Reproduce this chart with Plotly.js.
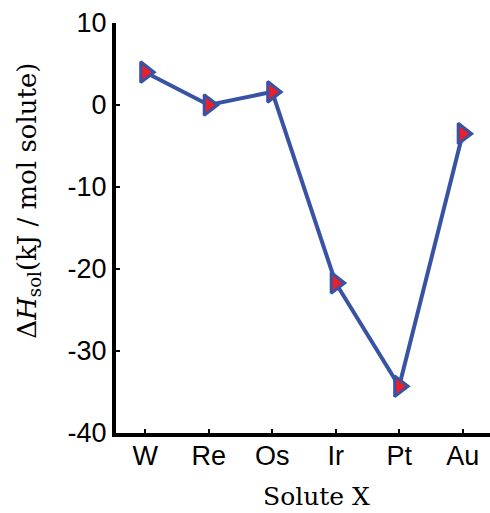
<!DOCTYPE html>
<html>
<head>
<meta charset="utf-8">
<script src="https://cdn.plot.ly/plotly-3.0.1.min.js"></script>
<style>html,body{margin:0;padding:0;background:#fff;}#chart{width:490px;height:513px;}</style>
</head>
<body>
<div id="chart"></div>
<script>
const solutes = ["W", "Re", "Os", "Ir", "Pt", "Au"];
const dHsol = [4.0, 0.0, 1.6, -21.7, -34.3, -3.5];
const yTicks = [10, 0, -10, -20, -30, -40];

const trace = {
  x: solutes,
  y: dHsol,
  type: "scatter",
  mode: "lines+markers",
  line: {color: "#3953a4", width: 4},
  marker: {symbol: "triangle-right", size: 18, color: "#e8202a",
           line: {color: "#3953a4", width: 3}},
  cliponaxis: false,
  showlegend: false
};

const layout = {
  width: 490, height: 513,
  margin: {l: 116, r: 0, t: 23, b: 80},
  paper_bgcolor: "#fff", plot_bgcolor: "#fff",
  font: {family: "Liberation Sans, Arial, sans-serif", color: "#000"},
  xaxis: {
    type: "category",
    range: [-0.46, 5.43],
    showline: true, linecolor: "#000", linewidth: 4,
    ticks: "inside", ticklen: 4, tickwidth: 2, tickcolor: "#000",
    ticklabelstandoff: -4,
    showgrid: false, zeroline: false,
    tickfont: {size: 27, family: "Liberation Sans, Arial, sans-serif"}
  },
  yaxis: {
    range: [-40, 10],
    tickvals: yTicks,
    ticktext: yTicks.map(String),
    showline: true, linecolor: "#000", linewidth: 4,
    ticks: "inside", ticklen: 4, tickwidth: 2, tickcolor: "#000",
    showgrid: false, zeroline: false,
    tickfont: {size: 27, family: "Liberation Sans, Arial, sans-serif"}
  },
  annotations: [
    {text: "Δ<i>H</i><sub>sol</sub>(kJ / mol solute)", xref: "paper", yref: "paper",
     x: -0.235, y: 0.567, textangle: -90, showarrow: false,
     xanchor: "center", yanchor: "middle",
     font: {family: "DejaVu Serif, Liberation Serif, serif", size: 26, color: "#000"}},
    {text: "Solute X", xref: "paper", yref: "paper",
     x: 0.537, y: -0.156, showarrow: false, xanchor: "center", yanchor: "middle",
     font: {family: "DejaVu Serif, Liberation Serif, serif", size: 25, color: "#000"}}
  ]
};

Plotly.newPlot("chart", [trace], layout, {displayModeBar: false, staticPlot: true});
</script>
</body>
</html>
